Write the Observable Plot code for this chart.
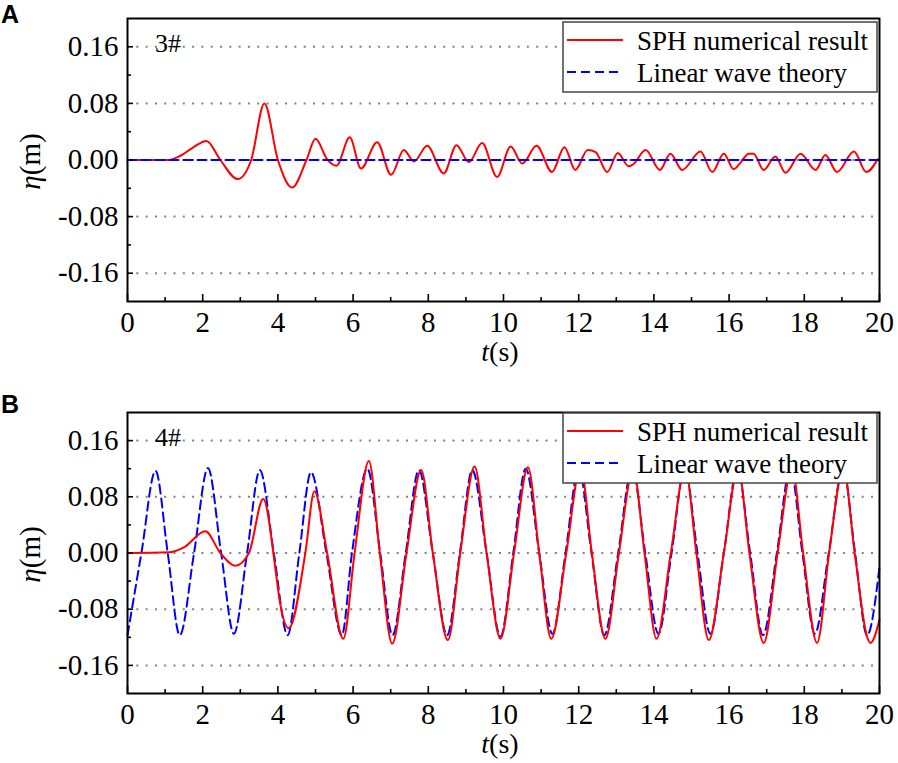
<!DOCTYPE html>
<html>
<head>
<meta charset="utf-8">
<script src="https://cdn.jsdelivr.net/npm/d3@7"></script>
<script src="https://cdn.jsdelivr.net/npm/@observablehq/plot@0.6"></script>
<style>
  html, body { margin: 0; padding: 0; background: #fff; }
  #chart { width: 898px; }
  #chart svg { display: block; }
  #chart svg text { font-family: "Liberation Serif", "Times New Roman", serif; }
  #chart svg text.sans { font-family: "Liberation Sans", Arial, sans-serif; }
</style>
</head>
<body>
<div id="chart"></div>
<script>
// ---------- data ----------
const yMajor = [-0.16, -0.08, 0, 0.08, 0.16];
const yMinor = [-0.12, -0.04, 0.04, 0.12];
const xMajor = [0, 2, 4, 6, 8, 10, 12, 14, 16, 18, 20];
const xMinor = [1, 3, 5, 7, 9, 11, 13, 15, 17, 19];

const seriesNames = ["SPH numerical result", "Linear wave theory"];
const gaugeNames = ["3#", "4#"];
const panelLetters = ["A", "B"];

// Panel A (gauge 3#) — SPH numerical result [t(s), eta(m)]
const sphA = [
  [0, 0], [1.1, 0], [1.41, 0.006], [1.75, 0.018], [2.10, 0.027], [2.47, 0],
  [2.93, -0.027], [3.29, 0], [3.64, 0.080], [4.0, 0], [4.38, -0.039], [4.76, 0],
  [5.0, 0.030], [5.31, 0.001], [5.56, -0.008], [5.91, 0.032], [6.21, -0.012],
  [6.64, 0.025], [7.01, -0.021], [7.35, 0.014], [7.62, -0.002], [7.97, 0.020],
  [8.41, -0.019], [8.75, 0.021], [9.08, -0.003], [9.43, 0.024], [9.83, -0.024],
  [10.19, 0.019], [10.5, -0.005], [10.88, 0.020], [11.29, -0.017], [11.62, 0.018],
  [11.91, -0.014], [12.24, 0.014], [12.45, 0.011], [12.76, -0.017], [13.04, 0.010],
  [13.33, -0.009], [13.45, -0.006], [13.78, 0.014], [14.16, -0.014], [14.44, 0.009],
  [14.75, -0.014], [15.24, 0.012], [15.55, -0.017], [15.86, 0.009], [16.12, -0.013],
  [16.3, -0.004], [16.52, 0.009], [16.65, 0.009], [16.92, -0.014], [17.23, 0.005], [17.5, -0.018],
  [17.9, 0.009], [18.3, -0.014], [18.56, 0.007], [18.87, -0.017], [19.32, 0.012],
  [19.65, -0.017], [19.95, 0.001]
];
// Panel A — linear wave theory
const linA = [[0, 0], [20, 0]];

// Panel B (gauge 4#) — SPH numerical result
const sphB = [
  [0, 0], [1.1, 0.001], [1.5, 0.008], [2.07, 0.031], [2.47, 0], [2.87, -0.018],
  [3.23, 0], [3.61, 0.077], [3.94, -0.025], [4.03, -0.062], [4.29, -0.107],
  [4.73, 0], [4.97, 0.088], [5.31, 0], [5.74, -0.122], [6.04, 0], [6.42, 0.131],
  [6.71, 0], [7.04, -0.129], [7.42, 0], [7.81, 0.118], [8.12, 0], [8.52, -0.124],
  [8.85, 0], [9.23, 0.123], [9.55, 0], [9.92, -0.122], [10.28, 0], [10.65, 0.122],
  [10.95, 0], [11.27, -0.122], [11.67, 0], [12.05, 0.122], [12.35, 0], [12.71, -0.122],
  [13.07, 0], [13.45, 0.12], [13.75, 0], [14.07, -0.122], [14.45, 0], [14.83, 0.12],
  [15.13, 0], [15.46, -0.124], [15.86, 0], [16.24, 0.12], [16.54, 0], [16.92, -0.128],
  [17.29, 0], [17.67, 0.12], [17.97, 0], [18.34, -0.128], [18.66, 0], [19.04, 0.12],
  [19.34, 0], [19.68, -0.121], [19.76, -0.128], [20, -0.095]
];
// Panel B — linear wave theory
const linB = [
  [0, -0.117], [0.37, 0], [0.745, 0.117], [1.07, 0], [1.39, -0.117], [1.77, 0],
  [2.14, 0.121], [2.49, 0], [2.83, -0.115], [3.18, 0], [3.52, 0.118], [3.89, 0],
  [4.26, -0.117], [4.57, 0], [4.88, 0.115], [5.29, 0], [5.7, -0.117], [5.97, 0],
  [6.38, 0.12], [6.72, 0], [7.05, -0.117], [7.4, 0], [7.75, 0.118], [8.12, 0],
  [8.5, -0.117], [8.84, 0], [9.17, 0.118], [9.55, 0], [9.92, -0.119], [10.26, 0],
  [10.59, 0.12], [10.95, 0], [11.3, -0.115], [11.65, 0], [12.0, 0.12], [12.34, 0],
  [12.68, -0.117], [13.05, 0], [13.42, 0.12], [13.77, 0], [14.12, -0.115], [14.47, 0],
  [14.82, 0.12], [15.16, 0], [15.5, -0.115], [15.86, 0], [16.22, 0.12], [16.56, 0],
  [16.9, -0.117], [17.27, 0], [17.63, 0.12], [17.95, 0], [18.28, -0.115], [18.65, 0],
  [19.03, 0.12], [19.35, 0], [19.67, -0.117], [20, -0.02]
];

// ---------- styling ----------
const RED = "#ff0000";
const BLUE = "#0000ff";
const SERIF = "Liberation Serif";
const SANS = "Liberation Sans";

const toRows = arr => arr.map(([t, eta]) => ({t, eta}));

function panel({sph, lin, letter, gauge, height, marginBottom, legendTop, letterY, blueOnTop}) {
  const marginTop = 18, marginLeft = 127, marginRight = 19;
  const redLine = Plot.line(toRows(sph), {x: "t", y: "eta", stroke: RED, strokeWidth: 2, curve: "monotone-x"});
  const blueLine = Plot.line(toRows(lin), {x: "t", y: "eta", stroke: BLUE, strokeWidth: 2, strokeDasharray: "9,5", curve: "monotone-x"});
  const svg = Plot.plot({
    width: 898, height, marginTop, marginBottom, marginLeft, marginRight,
    x: {domain: [0, 20], label: null},
    y: {domain: [-0.2, 0.2], label: null},
    style: {fontFamily: SERIF, fontSize: "29px", color: "#000", background: "#fff", overflow: "visible"},
    marks: [
      Plot.ruleY(yMajor, {stroke: "#808080", strokeWidth: 2, strokeDasharray: "2,7.3"}),
      ...(blueOnTop ? [redLine, blueLine] : [blueLine, redLine]),
      Plot.axisY(yMajor, {tickSize: 0, tickPadding: 9, tickFormat: d => d.toFixed(2), fontSize: 29, fontFamily: SERIF, label: null}),
      Plot.axisY(yMajor, {tickSize: 6, dx: 6, fill: "none", strokeWidth: 1.6, label: null}),
      Plot.axisY(yMinor, {tickSize: 4, dx: 4, fill: "none", strokeWidth: 1.6, label: null}),
      Plot.axisX(xMajor, {tickSize: 0, tickPadding: 10, tickFormat: d => String(d), fontSize: 29, fontFamily: SERIF, label: null}),
      Plot.axisX(xMajor, {tickSize: 7, dy: -7, fill: "none", strokeWidth: 1.6, label: null}),
      Plot.axisX(xMinor, {tickSize: 4, dy: -4, fill: "none", strokeWidth: 1.6, label: null}),
      Plot.frame({stroke: "#000", strokeWidth: 2})
    ]
  });

  const s = d3.select(svg);
  s.selectAll("text").attr("font-family", SERIF).style("font-family", SERIF);
  const frameBottom = height - marginBottom;
  const plotCenterX = marginLeft + (898 - marginLeft - marginRight) / 2;
  const zeroY = marginTop + (frameBottom - marginTop) / 2;

  // panel letter
  s.append("text").attr("class", "sans").attr("x", 1).attr("y", letterY).attr("text-anchor", "start")
    .attr("font-family", SANS).attr("font-weight", "bold").attr("font-size", 25)
    .attr("fill", "#000").text(letter);

  // gauge label
  s.append("text").attr("x", 155).attr("y", marginTop + 34).attr("text-anchor", "start")
    .attr("font-family", SERIF).attr("font-size", 26).attr("fill", "#000").text(gauge);

  // x axis title t(s)
  const xt = s.append("text").attr("x", plotCenterX - 3).attr("y", frameBottom + 60)
    .attr("text-anchor", "middle").attr("font-family", SERIF).attr("font-size", 28).attr("fill", "#000");
  xt.append("tspan").attr("font-style", "italic").text("t");
  xt.append("tspan").text("(s)");

  // y axis title η(m)
  const yt = s.append("text").attr("transform", `translate(40,${zeroY + 2}) rotate(-90)`)
    .attr("text-anchor", "middle").attr("font-family", SERIF).attr("font-size", 29).attr("fill", "#000");
  yt.append("tspan").attr("font-style", "italic").text("η");
  yt.append("tspan").text("(m)");

  // legend
  const lx = 563, lw = 314, lh = 70;
  const g = s.append("g");
  g.append("rect").attr("x", lx).attr("y", legendTop).attr("width", lw).attr("height", lh)
    .attr("fill", "#fff").attr("stroke", "#444").attr("stroke-width", 1.5);
  const rows = [
    {name: seriesNames[0], stroke: RED, dash: null, dy: 18, ty: 28},
    {name: seriesNames[1], stroke: BLUE, dash: "9,5", dy: 50, ty: 60}
  ];
  rows.forEach(r => {
    g.append("line").attr("x1", 567).attr("x2", 623)
      .attr("y1", legendTop + r.dy).attr("y2", legendTop + r.dy)
      .attr("stroke", r.stroke).attr("stroke-width", 2)
      .attr("stroke-dasharray", r.dash);
    g.append("text").attr("x", 637).attr("y", legendTop + r.ty).attr("text-anchor", "start")
      .attr("font-family", SERIF).attr("font-size", 27).attr("fill", "#000").text(r.name);
  });
  return svg;
}

const chart = document.getElementById("chart");
chart.appendChild(panel({sph: sphA, lin: linA, letter: panelLetters[0], gauge: gaugeNames[0],
  height: 394, marginBottom: 93, legendTop: 22, letterY: 23, blueOnTop: true}));
chart.appendChild(panel({sph: sphB, lin: linB, letter: panelLetters[1], gauge: gaugeNames[1],
  height: 369, marginBottom: 70, legendTop: 19, letterY: 19, blueOnTop: false}));
</script>
</body>
</html>
